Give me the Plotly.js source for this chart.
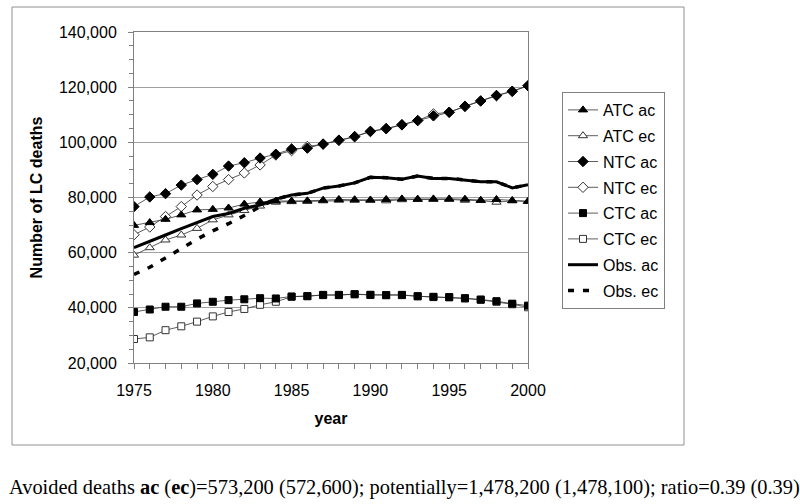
<!DOCTYPE html>
<html>
<head>
<meta charset="utf-8">
<script src="https://cdn.plot.ly/plotly-3.0.1.min.js"></script>
<style>html,body{margin:0;padding:0;background:#fff;}#chart{width:800px;height:504px;}</style>
</head>
<body>
<div id="chart"></div>
<script>
const years = [1975,1976,1977,1978,1979,1980,1981,1982,1983,1984,1985,1986,1987,1988,1989,1990,1991,1992,1993,1994,1995,1996,1997,1998,1999,2000];
const atcAc = [69900,70900,72100,73700,75500,75700,76200,77600,78400,78700,78700,78800,79000,79300,79200,79100,79300,79500,79400,79500,79500,79400,79000,79300,78900,78600];
const atcEc = [59100,61800,64600,66400,68800,71900,73700,75300,76900,78300,78500,78600,78800,79000,79000,79000,78800,79200,79300,79300,79300,79000,78900,78300,78800,78600];
const ntcAc = [76700,80200,81400,84500,86500,88400,91400,92600,94300,95700,97600,97900,99400,100800,102100,104000,105000,106400,107900,109600,110900,113100,115000,117000,118500,120500];
const ntcEc = [66500,69300,73100,76700,80900,84000,86500,88900,91800,95400,97000,98500,99300,100700,102000,103900,104900,106300,107900,110300,110900,113000,115000,116900,118500,120500];
const ctcAc = [38500,39400,40400,40400,41600,42200,42800,43100,43500,43400,44100,44200,44700,44700,44900,44700,44600,44700,44200,44000,43900,43500,43000,42400,41500,40800];
const ctcEc = [28700,29300,31900,33300,35000,36900,38500,39600,41100,42200,44000,44300,44600,44600,45000,44700,44600,44600,44200,43900,43800,43400,42900,42200,41300,40200];
const obsAc = [61800,64000,66400,68700,70900,73100,74200,76100,77300,79400,80900,81500,83400,84200,85300,87300,87200,86600,87800,86900,86900,86400,85700,85700,83500,84600];
const obsEc = [52100,54700,58100,61600,64900,67900,70500,73500,76700,79400,80900,81500,83400,84200,85300,87300,87200,86600,87800,86900,86900,86400,85700,85700,83500,84600];
const seriesNames = ["ATC ac","ATC ec","NTC ac","NTC ec","CTC ac","CTC ec","Obs. ac","Obs. ec"];
const caption = "Avoided deaths <b>ac</b> (<b>ec</b>)=573,200 (572,600); potentially=1,478,200 (1,478,100); ratio=0.39 (0.39)";

const thin = {color:'#333333', width:0.8};
function mk(name, y, symbol, filled, size, rank){
  return {x: years, y: y, name: name, type:'scatter', mode:'lines+markers', legendgroup:name, legendrank: rank,
    line: thin,
    marker: {symbol: symbol, size: size, color: filled ? '#000000' : '#ffffff',
             line: {color: filled ? '#000000' : '#333333', width: 1}}};
}
// "ec" series drawn first so the "ac" series sit on top; legend order kept by legendrank
const traces = [
  mk(seriesNames[1], atcEc, 'triangle-up', false, 8, 2),
  mk(seriesNames[3], ntcEc, 'diamond', false, 8, 4),
  mk(seriesNames[5], ctcEc, 'square', false, 7, 6),
  {x: years, y: obsEc, name: seriesNames[7], legendgroup: seriesNames[7], legendrank: 8, type:'scatter', mode:'lines', line:{color:'#000000', width:3.5, dash:'6px,9px'}},
  mk(seriesNames[0], atcAc, 'triangle-up', true, 8, 1),
  mk(seriesNames[2], ntcAc, 'diamond', true, 8, 3),
  mk(seriesNames[4], ctcAc, 'square', true, 7, 5),
  {x: years, y: obsAc, name: seriesNames[6], legendgroup: seriesNames[6], legendrank: 7, type:'scatter', mode:'lines', line:{color:'#000000', width:3}}
];

const layout = {
  width: 800, height: 504,
  margin: {l:134, r:272, t:32, b:141, pad:0},
  paper_bgcolor:'#ffffff', plot_bgcolor:'#ffffff',
  font: {family:'Liberation Sans, Arial, sans-serif', size:16, color:'#000000'},
  showlegend: true,
  xaxis: {
    range:[1975,2000], dtick:5, tick0:1975, showgrid:false, zeroline:false,
    ticks:'outside', ticklen:5, tickcolor:'#808080', tickwidth:1,
    minor:{dtick:1, ticks:'outside', ticklen:5, tickcolor:'#808080', showgrid:false},
    showline:true, linecolor:'#808080', linewidth:1, mirror:true,
    tickfont:{size:16}, ticklabelstandoff:8,
    title:{text:'<b>year</b>', font:{size:16}, standoff:14}
  },
  yaxis: {
    range:[20000,140000], dtick:20000, tickformat:',d', showgrid:true, gridcolor:'#a0a0a0', gridwidth:1, zeroline:false,
    ticks:'outside', ticklen:5, tickcolor:'#808080', tickwidth:1,
    minor:{dtick:5000, ticks:'outside', ticklen:4, tickcolor:'#808080', showgrid:false},
    showline:true, linecolor:'#808080', linewidth:1, mirror:true,
    tickfont:{size:16}, ticklabelstandoff:8,
    title:{text:'<b>Number of LC deaths</b>', font:{size:16}, standoff:12}
  },
  legend: {
    x:(562-134)/394, y:(363-92)/331, xanchor:'left', yanchor:'top',
    bordercolor:'#808080', borderwidth:1, bgcolor:'#ffffff',
    font:{size:16}, traceorder:'grouped', tracegroupgap:2, itemwidth:30
  },
  shapes: [
    {type:'rect', xref:'paper', yref:'paper', x0:(12-134)/394, x1:(684-134)/394, y0:(363-445)/331, y1:(363-7)/331,
     line:{color:'#909090', width:1}, fillcolor:'rgba(0,0,0,0)', layer:'below'}
  ],
  annotations: [
    {xref:'paper', yref:'paper', x:(7-134)/394, y:(363-487)/331, xanchor:'left', yanchor:'middle', showarrow:false,
     text: caption, font:{family:'Liberation Serif, Times New Roman, serif', size:20.4, color:'#000000'}}
  ]
};
Plotly.newPlot('chart', traces, layout, {staticPlot:true, displayModeBar:false});
</script>
</body>
</html>
